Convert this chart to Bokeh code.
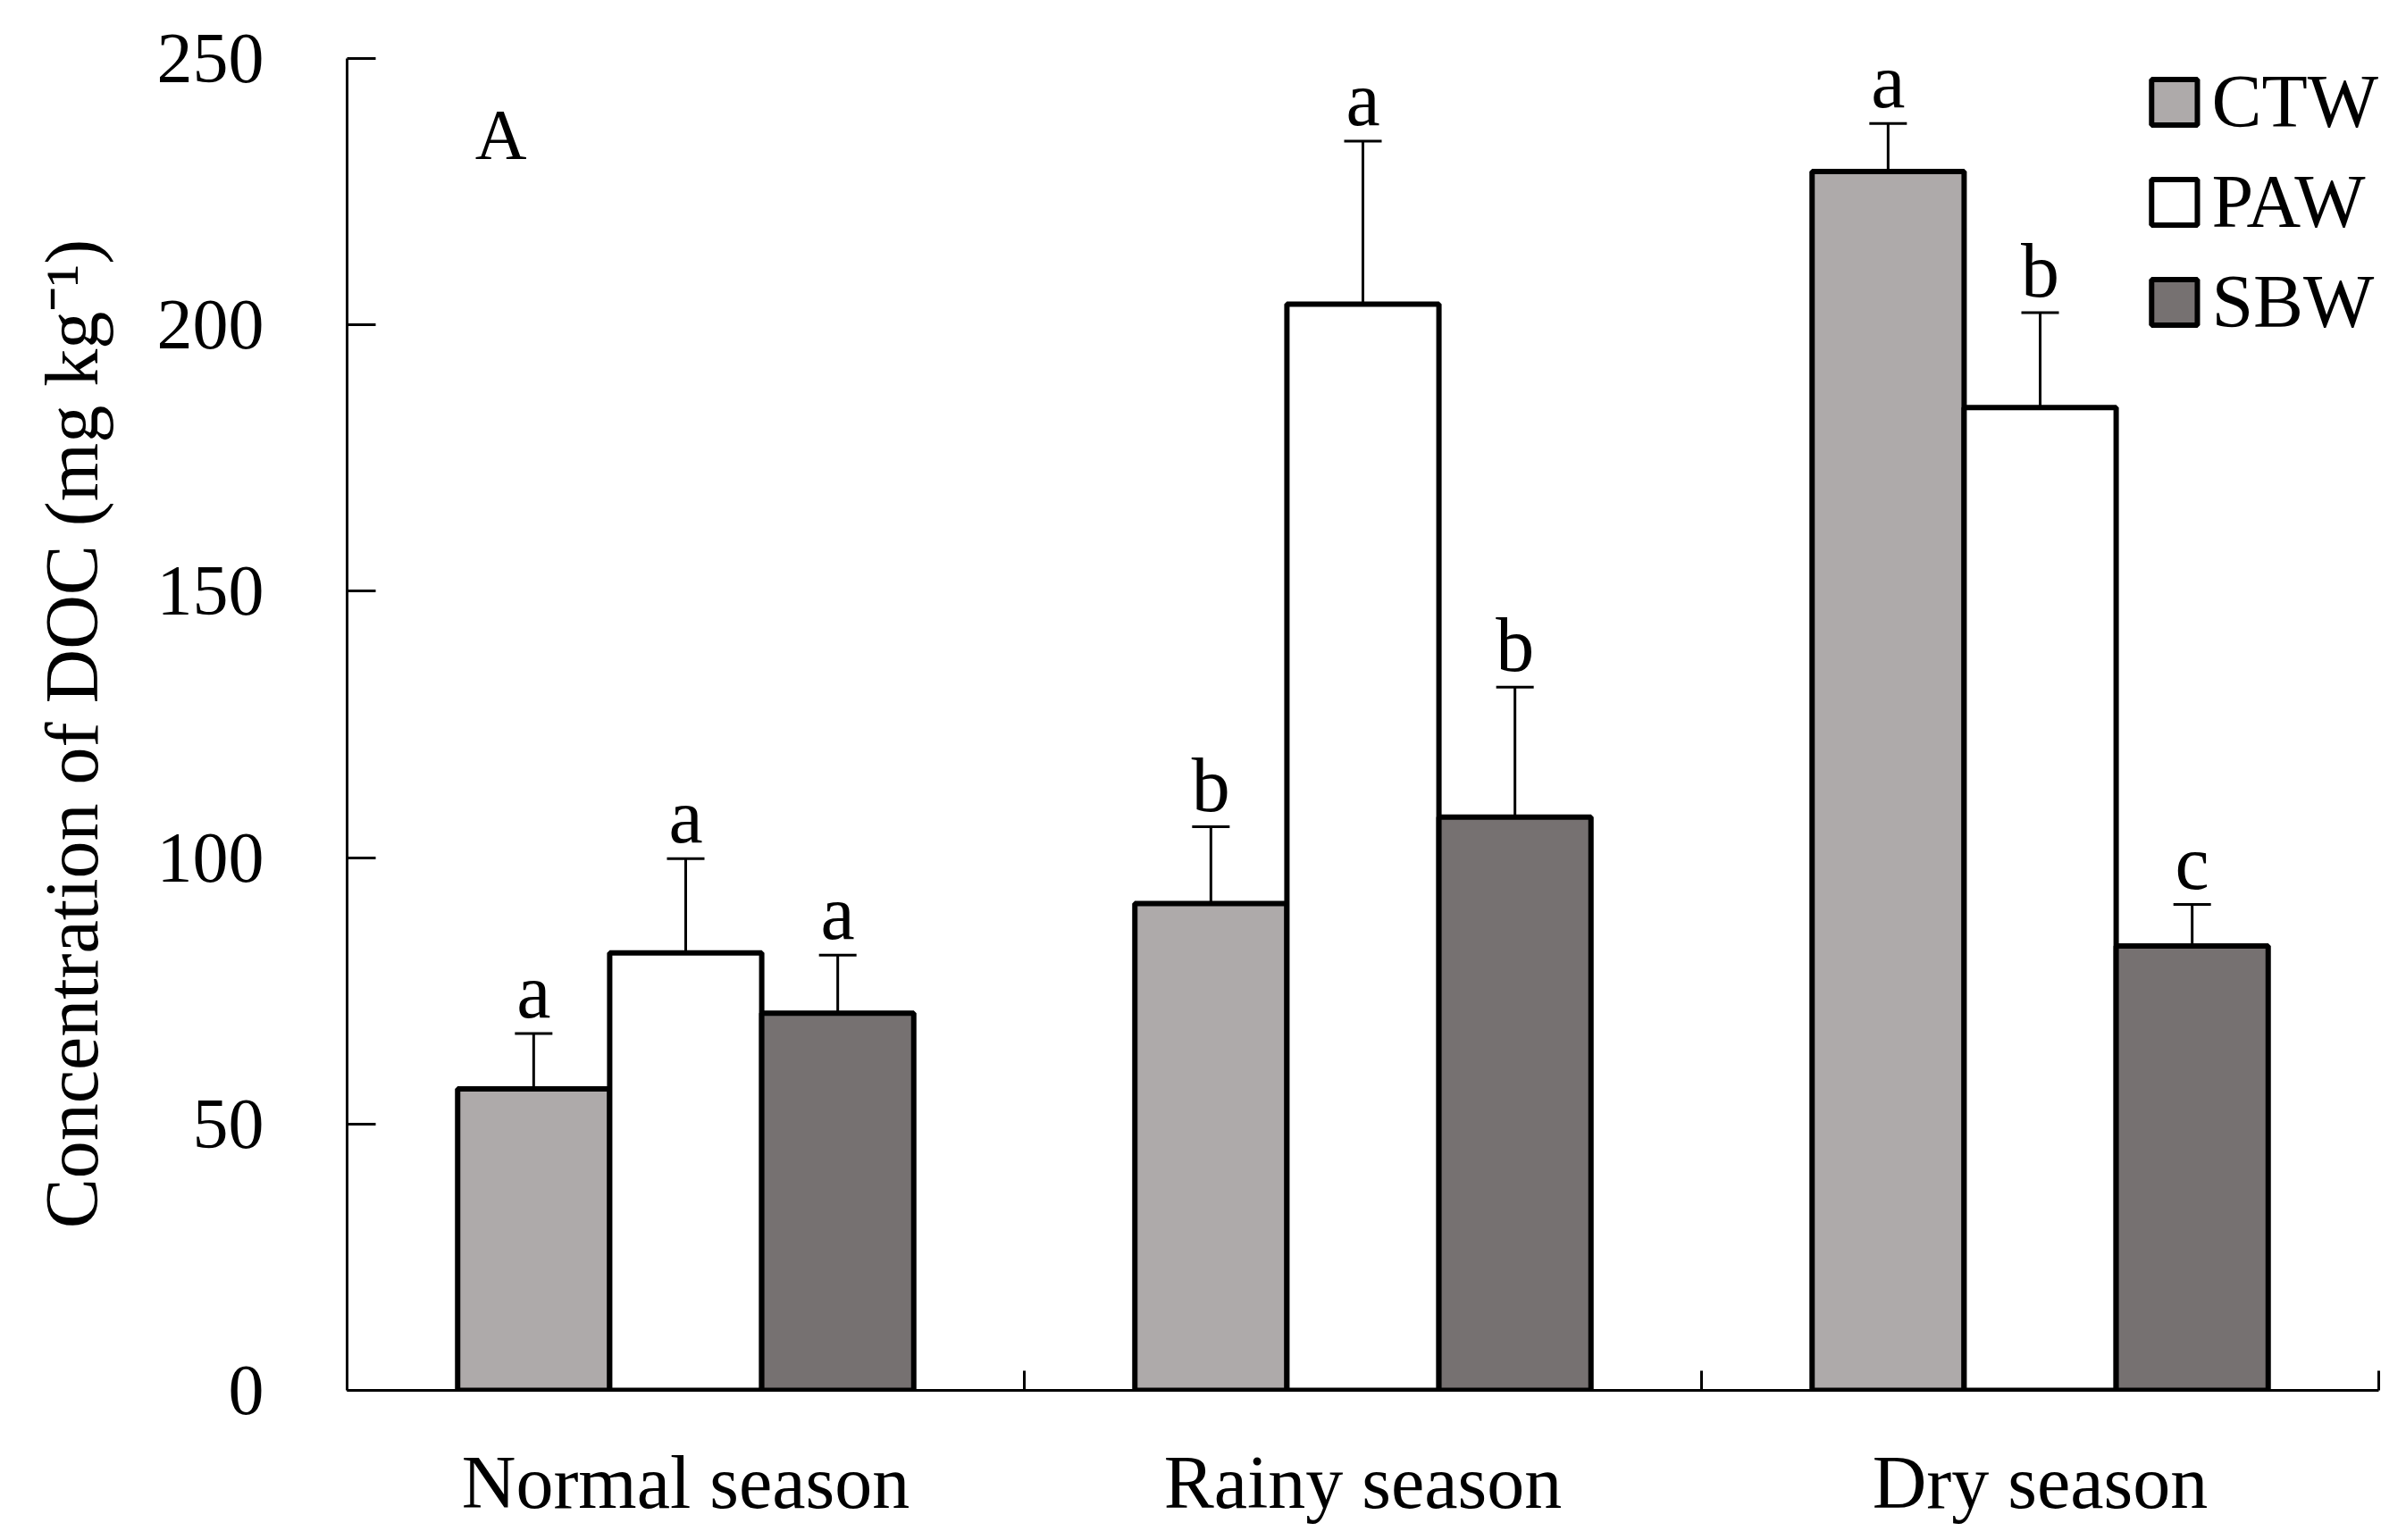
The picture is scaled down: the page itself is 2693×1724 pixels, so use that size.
from bokeh.plotting import figure
from bokeh.models import (Range1d, FixedTicker, ColumnDataSource, Whisker, TeeHead,
                          LabelSet, Label, Legend, LegendItem)
from bokeh.embed import file_html
from bokeh.resources import INLINE

# ---- data ----
seasons = ["Normal season", "Rainy season", "Dry season"]
series = ["CTW", "PAW", "SBW"]
ctw = [56.6, 91.4, 228.8]
paw = [82.1, 203.9, 184.5]
sbw = [70.8, 107.6, 83.4]
ctw_err = [10.4, 14.4, 9.0]
paw_err = [17.7, 30.6, 17.8]
sbw_err = [10.9, 24.4, 7.8]
ctw_sig = ["a", "b", "a"]
paw_sig = ["a", "a", "b"]
sbw_sig = ["a", "b", "c"]
y_ticks = [0, 50, 100, 150, 200, 250]
fills = ["#AEAAAA", "#FFFFFF", "#767171"]

FONT = "Liberation Serif"
W, H = 2677, 1708

p = figure(width=W, height=H, output_backend="svg", toolbar_location=None,
           x_range=Range1d(0, 3), y_range=Range1d(0, 250),
           min_border_left=388, min_border_right=15, min_border_top=65, min_border_bottom=149)
p.outline_line_color = None
p.xgrid.visible = False
p.ygrid.visible = False
p.background_fill_color = "white"
p.border_fill_color = "white"

# y axis
ya = p.yaxis[0]
ya.ticker = FixedTicker(ticks=y_ticks)
ya.axis_line_width = 3
ya.axis_line_color = "black"
ya.major_tick_in = 32
ya.major_tick_out = 0
ya.major_tick_line_width = 3
ya.minor_tick_line_color = None
ya.major_label_text_font = FONT
ya.major_label_text_font_size = "80px"
ya.major_label_text_color = "black"
ya.major_label_standoff = 93
ya.axis_label = "Concentration of  DOC (mg kg\u207b\u00b9)"
ya.axis_label_text_font = FONT
ya.axis_label_text_font_size = "84px"
ya.axis_label_text_font_style = "normal"
ya.axis_label_text_color = "black"
ya.axis_label_standoff = 46

# x axis: labels at group centres, separator ticks between groups
xa = p.xaxis[0]
centres = [i + 0.5 for i in range(len(seasons))]
xa.ticker = FixedTicker(ticks=centres, minor_ticks=[i + 1 for i in range(len(seasons))])
xa.major_label_overrides = {c: s for c, s in zip(centres, seasons)}
xa.axis_line_width = 3
xa.axis_line_color = "black"
xa.major_tick_in = 0
xa.major_tick_out = 0
xa.minor_tick_in = 22
xa.minor_tick_out = 0
xa.minor_tick_line_width = 3
xa.minor_tick_line_color = "black"
xa.major_label_text_font = FONT
xa.major_label_text_font_size = "84px"
xa.major_label_text_color = "black"
xa.major_label_standoff = 56

bw = 0.2245
vals = [ctw, paw, sbw]
errs = [ctw_err, paw_err, sbw_err]
sigs = [ctw_sig, paw_sig, sbw_sig]
items = []
for j, name in enumerate(series):
    xs = [c + (j - 1) * bw for c in centres]
    up = [v + e for v, e in zip(vals[j], errs[j])]
    src = ColumnDataSource(dict(x=xs, top=vals[j], upper=up, sig=sigs[j]))
    wk = Whisker(base="x", upper="upper", lower="top", dimension="height", source=src,
                 line_color="black", line_width=3,
                 upper_head=TeeHead(size=42, line_width=3, line_color="black"),
                 lower_head=None, level="underlay")
    p.add_layout(wk)
    r = p.vbar(x="x", top="top", bottom=0, width=bw, source=src,
               fill_color=fills[j], line_color="black", line_width=6)
    items.append(LegendItem(label=name, renderers=[r]))
    ls = LabelSet(x="x", y="upper", text="sig", source=src, text_align="center",
                  text_baseline="alphabetic", y_offset=18, text_font=FONT,
                  text_font_size="86px", text_color="black")
    p.add_layout(ls)

p.add_layout(Label(x=0.227, y=235.6, text="A", text_align="center", text_baseline="middle",
                   text_font=FONT, text_font_size="80px", text_color="black"))

leg = Legend(items=items, location="top_right", border_line_color=None,
             background_fill_alpha=0, padding=0, margin=0,
             glyph_width=64, glyph_height=64, label_standoff=10, spacing=15,
             label_text_font=FONT, label_text_font_size="84px", label_text_color="black",
             label_height=96)
p.add_layout(leg)

open("out.html", "w").write(file_html(p, INLINE))
